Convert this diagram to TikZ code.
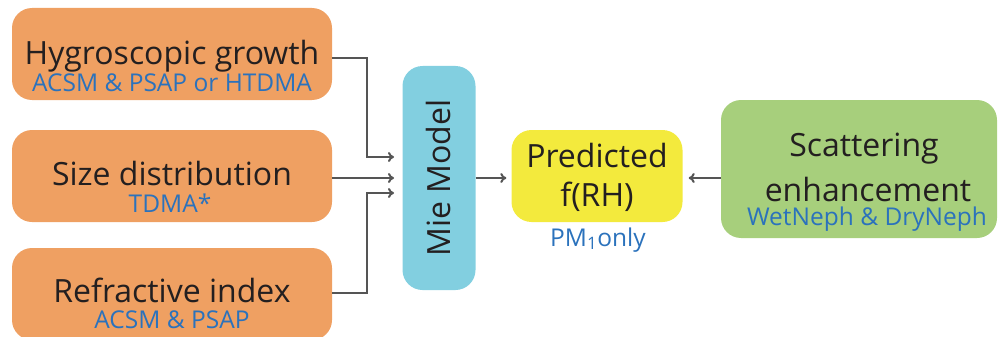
\documentclass[tikz,border=0pt]{standalone}
\usepackage{fontspec}
\setmainfont{Open Sans}
\usetikzlibrary{arrows.meta}
\definecolor{boxorange}{HTML}{EFA062}
\definecolor{boxblue}{HTML}{82CFE0}
\definecolor{boxyellow}{HTML}{F3EA3D}
\definecolor{boxgreen}{HTML}{A7CF7C}
\definecolor{subblue}{HTML}{2B72BC}
\definecolor{inkblack}{HTML}{231F20}
\definecolor{linkgray}{HTML}{555555}
\tikzset{
  box/.style={rounded corners=20pt, inner sep=0pt},
  maintext/.style={anchor=base, text=inkblack, font=\fontsize{32}{38}\selectfont, inner sep=0pt},
  subtext/.style={anchor=base, text=subblue, font=\fontsize{24.5}{29}\selectfont, inner sep=0pt},
  link/.style={draw=linkgray, line width=2pt, -{To[length=6pt,width=10pt]}},
}
\begin{document}
\begin{tikzpicture}[x=1pt,y=-1pt]
\useasboundingbox (0,0) rectangle (998,337);
% input boxes
\node[box, fill=boxorange, minimum width=320pt, minimum height=92pt] (hyg) at (172,54) {};
\node[box, fill=boxorange, minimum width=320pt, minimum height=92pt] (size) at (172,176) {};
\node[box, fill=boxorange, minimum width=320pt, minimum height=92pt] (refr) at (172,294) {};
\node[maintext] (hygT) at (172,64) {Hygroscopic growth};
\node[subtext] (hygS) at (172,91) {ACSM \& PSAP or HTDMA};
\node[maintext] (sizeT) at (172,185) {Size distribution};
\node[subtext] (sizeS) at (170,212) {TDMA*};
\node[maintext] (refrT) at (172,302) {Refractive index};
\node[subtext] (refrS) at (172,328) {ACSM \& PSAP};
% model and outputs
\node[box, fill=boxblue, minimum width=73pt, minimum height=224pt] (mie) at (439,178) {};
\node[maintext, rotate=90] (mieT) at (450,178) {Mie Model};
\node[box, fill=boxyellow, minimum width=171pt, minimum height=92pt] (pred) at (597,176) {};
\node[maintext] (predT) at (597,167) {Predicted};
\node[maintext] (predF) at (597,206) {f(RH)};
\node[subtext] (pm) at (598,246) {PM\textsubscript{1}only};
\node[box, fill=boxgreen, minimum width=276pt, minimum height=138pt] (scat) at (859,169) {};
\node[maintext] (scatT) at (864,156) {Scattering};
\node[maintext] (scatE) at (868,201) {enhancement};
\node[subtext] (scatS) at (867,225) {WetNeph \& DryNeph};
% connectors
\coordinate (inA) at (394,157);
\coordinate (inB) at (394,178);
\coordinate (inC) at (394,193);
\draw[link] (hyg.east |- 0,58) -| (367,157) -- (inA);
\draw[link] (size.east |- inB) -- (inB);
\draw[link] (refr.east |- 0,293) -| (367,193) -- (inC);
\draw[link] (mie.east |- 0,178) -- ([xshift=-5pt]pred.west |- 0,178);
\draw[link] (scat.west |- 0,178) -- ([xshift=6pt]pred.east |- 0,178);
\end{tikzpicture}
\end{document}
